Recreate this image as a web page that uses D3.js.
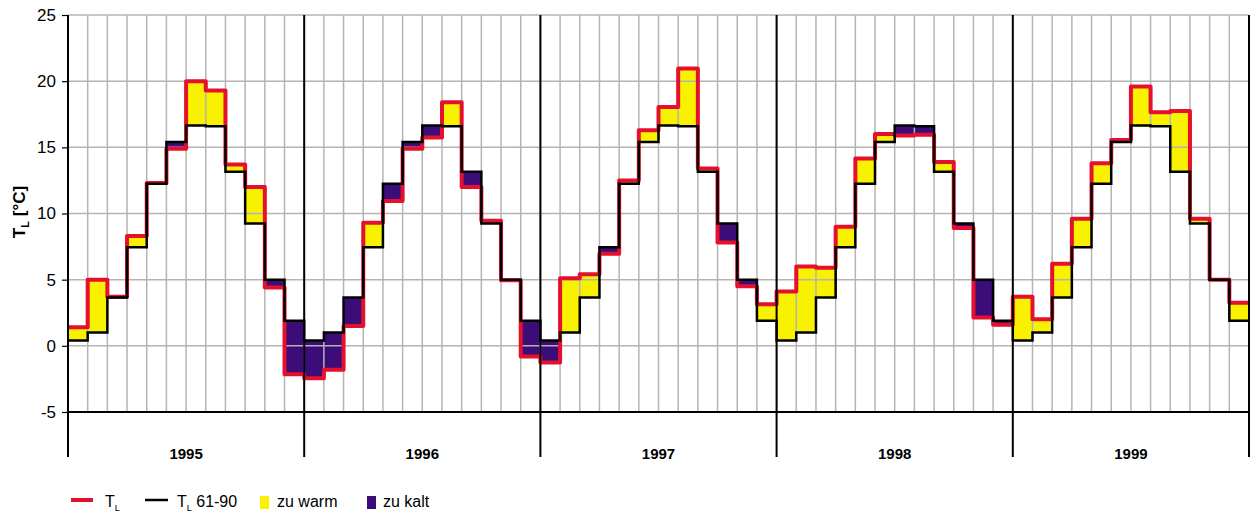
<!DOCTYPE html>
<html>
<head>
<meta charset="utf-8">
<script src="https://cdn.jsdelivr.net/npm/d3@7"></script>
<style>
  body { margin: 0; background: #fff; }
  svg { font-family: "Liberation Sans", Arial, sans-serif; }
</style>
</head>
<body>
<svg width="1251" height="515"></svg>
<script>
// Jahre und Monatswerte der Lufttemperatur (°C)
var years = ["1995", "1996", "1997", "1998", "1999"];
var yTicks = [-5, 0, 5, 10, 15, 20, 25];

// langjähriges Mittel 1961-90, Jan..Dez
var normal = [0.4, 1.0, 3.65, 7.45, 12.25, 15.4, 16.65, 16.6, 13.15, 9.25, 5.0, 1.9];

// gemessene Monatsmittel
var tl1995 = [1.4, 5.0, 3.7, 8.3, 12.3, 14.9, 20.0, 19.3, 13.7, 12.0, 4.4, -2.15];
var tl1996 = [-2.45, -1.8, 1.5, 9.3, 10.95, 14.9, 15.75, 18.4, 12.0, 9.45, 4.95, -0.8];
var tl1997 = [-1.25, 5.1, 5.4, 6.95, 12.5, 16.3, 18.05, 20.95, 13.4, 7.8, 4.5, 3.15];
var tl1998 = [4.1, 6.0, 5.9, 9.0, 14.15, 16.0, 15.9, 15.95, 13.9, 8.9, 2.15, 1.6];
var tl1999 = [3.7, 2.0, 6.2, 9.6, 13.8, 15.55, 19.6, 17.65, 17.75, 9.6, 5.0, 3.25];

var tl = [].concat(tl1995, tl1996, tl1997, tl1998, tl1999);
var data = tl.map(function(v, i) {
  return {i: i, t: v, n: normal[i % 12]};
});
var nMonths = data.length;

var svg = d3.select("svg");
var plot = {left: 68, right: 1249, top: 15, bottom: 412, axisBottom: 457};

var x = d3.scaleLinear().domain([0, nMonths]).range([plot.left, plot.right]);
var y = d3.scaleLinear().domain([-5, 25]).range([plot.bottom, plot.top]);

// Flächen zu warm / zu kalt
svg.append("g")
   .selectAll("rect")
   .data(data)
   .enter()
   .append("rect")
   .attr("x", function(d) { return x(d.i); })
   .attr("width", function(d) { return x(d.i + 1) - x(d.i); })
   .attr("y", function(d) { return y(Math.max(d.t, d.n)); })
   .attr("height", function(d) { return Math.abs(y(d.t) - y(d.n)); })
   .attr("fill", function(d) { return d.t >= d.n ? "#f8f200" : "#3c0c78"; });

// Gitter
var grid = svg.append("g").attr("stroke", "#b4b4b4").attr("stroke-width", 1.5);
grid.selectAll("line.v")
    .data(d3.range(1, nMonths))
    .enter()
    .append("line")
    .attr("class", "v")
    .attr("x1", function(d) { return x(d); })
    .attr("x2", function(d) { return x(d); })
    .attr("y1", plot.top)
    .attr("y2", plot.bottom);
grid.selectAll("line.h")
    .data(yTicks.filter(function(t) { return t > -5; }))
    .enter()
    .append("line")
    .attr("class", "h")
    .attr("x1", plot.left)
    .attr("x2", plot.right)
    .attr("y1", function(d) { return y(d); })
    .attr("y2", function(d) { return y(d); });

// Linien als Stufen
var pts = function(key) {
  var p = data.map(function(d) { return [d.i, d[key]]; });
  p.push([nMonths, data[nMonths - 1][key]]);
  return p;
};
var line = d3.line()
             .x(function(d) { return x(d[0]); })
             .y(function(d) { return y(d[1]); })
             .curve(d3.curveStepAfter);

svg.append("path")
   .attr("d", line(pts("t")))
   .attr("fill", "none")
   .attr("stroke", "#e5102c")
   .attr("stroke-width", 4)
   .attr("stroke-linejoin", "round");
svg.append("path")
   .attr("d", line(pts("n")))
   .attr("fill", "none")
   .attr("stroke", "#000")
   .attr("stroke-width", 2.5);

// Jahresgrenzen und Achsen
svg.append("g")
   .selectAll("line")
   .data(d3.range(0, years.length + 1))
   .enter()
   .append("line")
   .attr("x1", function(d) { return x(d * 12); })
   .attr("x2", function(d) { return x(d * 12); })
   .attr("y1", plot.top)
   .attr("y2", plot.axisBottom)
   .attr("stroke", "#000")
   .attr("stroke-width", 2);

svg.append("line")
   .attr("x1", plot.left).attr("x2", plot.right)
   .attr("y1", y(-5)).attr("y2", y(-5))
   .attr("stroke", "#000").attr("stroke-width", 2);

var yAxis = d3.axisLeft(y).tickValues(yTicks).tickSize(6).tickPadding(6)
              .tickFormat(function(d) { return String(d); });
var ya = svg.append("g").attr("transform", "translate(" + plot.left + ",0)").call(yAxis);
ya.select(".domain").remove();
ya.selectAll(".tick line").attr("stroke", "#000").attr("stroke-width", 1.2);
ya.selectAll(".tick text").attr("font-size", 17).attr("fill", "#000")
  .attr("font-family", "Liberation Sans, Arial, sans-serif");

svg.append("g")
   .selectAll("text")
   .data(years)
   .enter()
   .append("text")
   .attr("x", function(d, i) { return x(i * 12 + 6); })
   .attr("y", 459)
   .attr("text-anchor", "middle")
   .attr("font-size", 15)
   .attr("font-weight", "bold")
   .text(function(d) { return d; });

// Achsentitel
var yt = svg.append("text")
            .attr("transform", "translate(25,212) rotate(-90)")
            .attr("text-anchor", "middle")
            .attr("font-size", 17)
            .attr("font-weight", "bold");
yt.append("tspan").text("T");
yt.append("tspan").attr("font-size", 11).attr("dy", 4).text("L");
yt.append("tspan").attr("dy", -4).text(" [°C]");

// Legende
var lg = svg.append("g").attr("font-size", 16);
lg.append("line").attr("x1", 71).attr("x2", 93).attr("y1", 500).attr("y2", 500)
  .attr("stroke", "#e5102c").attr("stroke-width", 4);
var t1 = lg.append("text").attr("x", 105).attr("y", 507);
t1.append("tspan").text("T");
t1.append("tspan").attr("font-size", 9).attr("dy", 4).text("L");

lg.append("line").attr("x1", 145).attr("x2", 168).attr("y1", 500).attr("y2", 500)
  .attr("stroke", "#000").attr("stroke-width", 2.5);
var t2 = lg.append("text").attr("x", 177).attr("y", 507);
t2.append("tspan").text("T");
t2.append("tspan").attr("font-size", 9).attr("dy", 4).text("L");
t2.append("tspan").attr("dy", -4).text(" 61-90");

lg.append("rect").attr("x", 260).attr("y", 496).attr("width", 9).attr("height", 13)
  .attr("fill", "#f8f200");
lg.append("text").attr("x", 277).attr("y", 507).text("zu warm");
lg.append("rect").attr("x", 367).attr("y", 496).attr("width", 9).attr("height", 13)
  .attr("fill", "#3c0c78");
lg.append("text").attr("x", 383).attr("y", 507).text("zu kalt");
</script>
</body>
</html>
